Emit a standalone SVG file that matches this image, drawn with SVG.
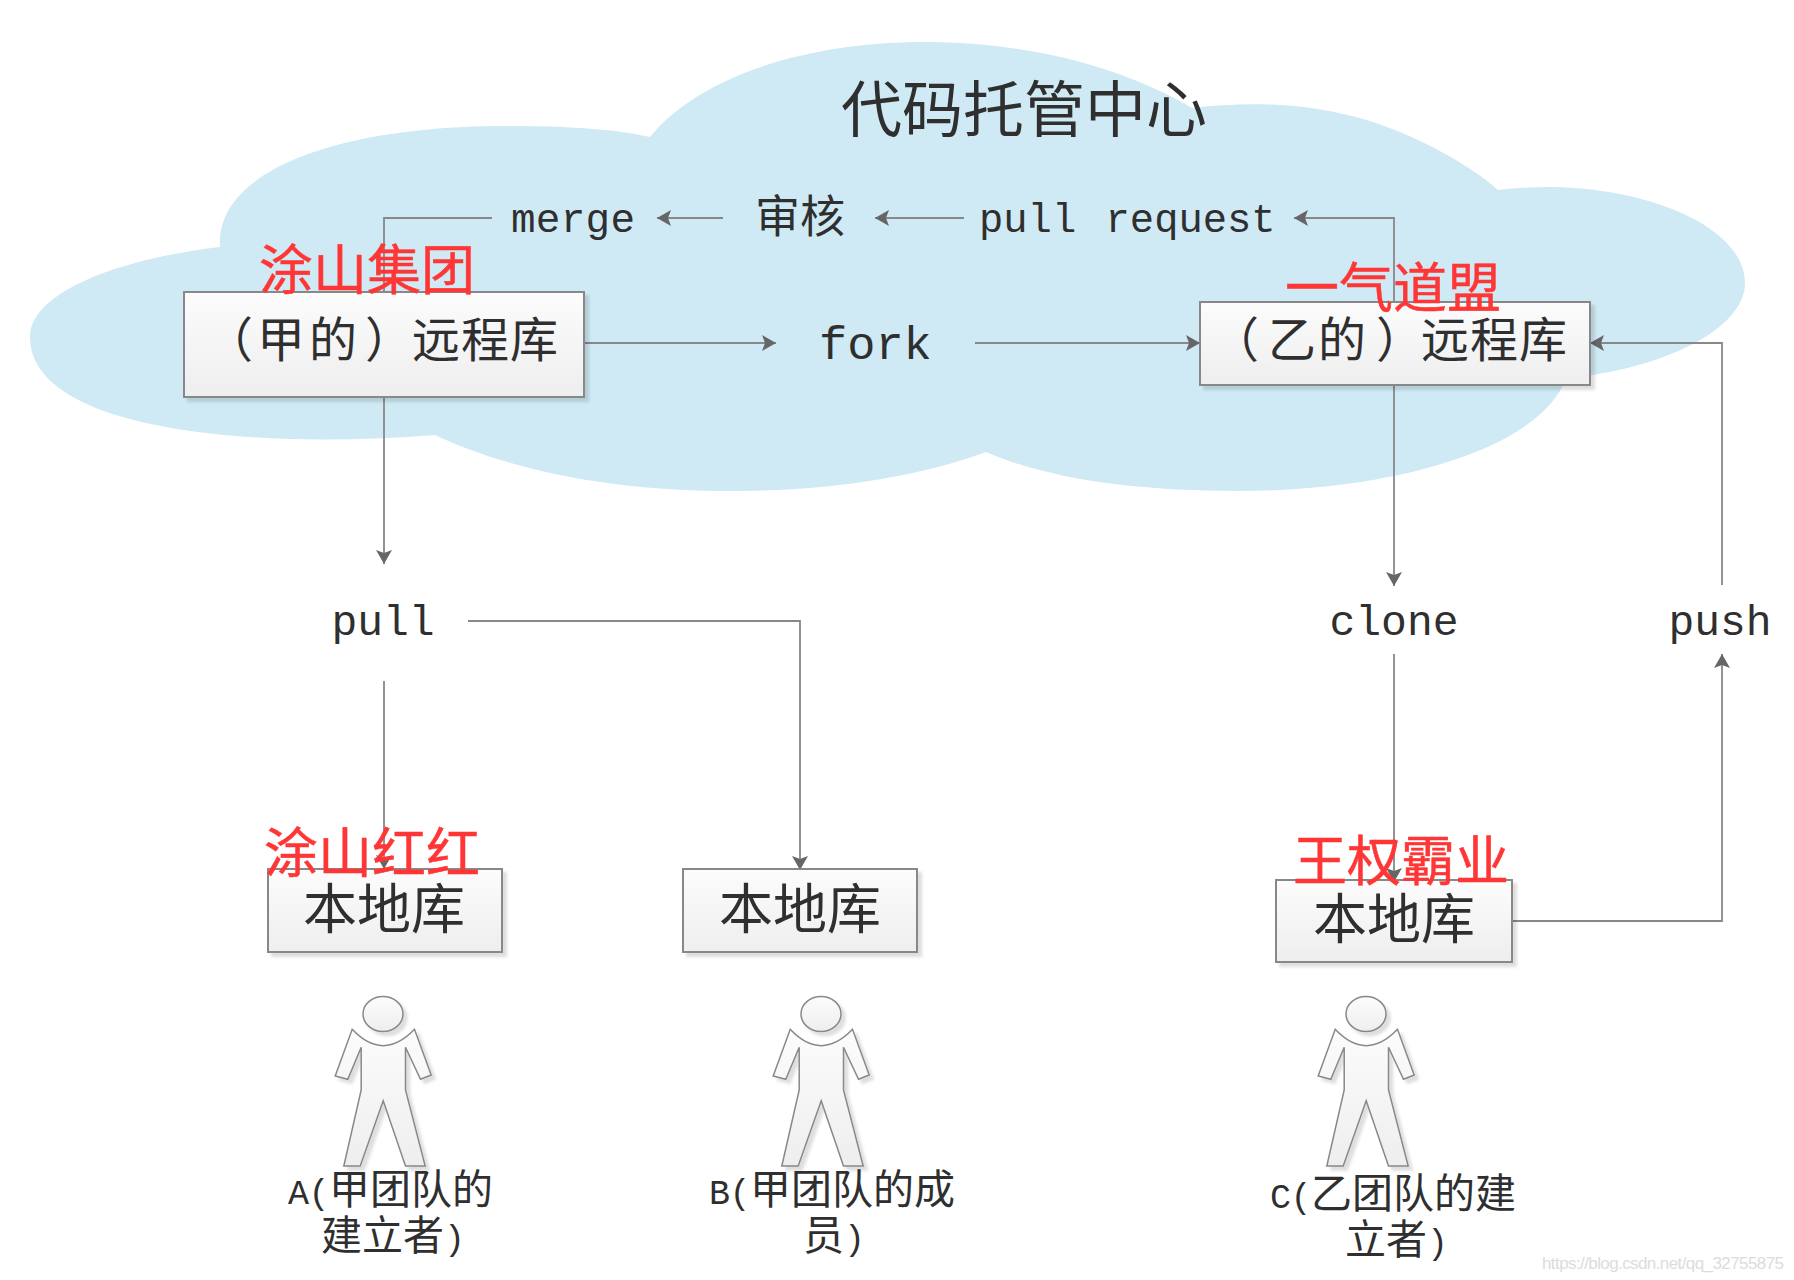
<svg xmlns="http://www.w3.org/2000/svg" width="1794" height="1280" viewBox="0 0 1794 1280">
<style>
text{fill:#2f2f2f;font-family:"Noto Sans CJK SC","Noto Sans",sans-serif}
.m{font-family:"Liberation Mono","DejaVu Sans Mono",monospace}
.t48{font-size:48px}.t54{font-size:54px;text-anchor:middle}.t41{font-size:41px}
.l{font-size:35px;letter-spacing:-0.5px}
.r{fill:#ff3636;font-size:54px;stroke:#ff3636;stroke-width:.5}
.box{fill:url(#g);stroke:#888;stroke-width:2}
.p{fill:url(#g);stroke:#888;stroke-width:1.5}
.c{fill:none;stroke:#888;stroke-width:1.8}
.a{marker-end:url(#arrow)}
</style>
<defs>
<linearGradient id="g" x1="0" y1="0" x2="0" y2="1"><stop offset="0" stop-color="#fcfcfc"/><stop offset="1" stop-color="#eeeeee"/></linearGradient>
<filter id="s" x="-10%" y="-10%" width="125%" height="125%"><feDropShadow dx="4" dy="4" stdDeviation="1.5" flood-color="#000" flood-opacity="0.13"/></filter>
<marker id="arrow" markerUnits="userSpaceOnUse" markerWidth="16" markerHeight="16" refX="14" refY="8" orient="auto"><path d="M0,0L14,8L0,16L3,8Z" fill="#666"/></marker>
<g id="person">
<ellipse cx="0" cy="0" rx="20" ry="17.5" class="p"/>
<path class="p" d="M-30.8,15.3Q0,48 31.5,15.3L48.2,61 37.5,65.3 22.5,33.3V76L42.2,152H22.5L0.2,86.7-22.8,152H-39.2L-21.8,76V33.3L-35.2,65.3-47.8,62Z"/>
</g>
</defs>
<rect width="1794" height="1280" fill="#fff"/>
<g id="cloud"><path fill="#cfeaf5" d="M650,137C700,75 810,42 923,42C1030,42 1125,68 1192,108C1262,100 1330,104 1395,130C1440,148 1478,172 1498,190C1620,175 1745,220 1745,283C1745,330 1660,370 1566,378C1540,450 1390,491 1238,491C1140,491 1050,480 986,452C910,480 820,491 729,491C610,491 510,470 435,435C250,450 30,430 30,337C30,295 110,260 220,247C215,170 340,126 505,126C560,126 610,128 650,137Z"/></g>
<g id="title"><text x="841" y="132" font-size="61">代码托管中心</text></g>
<g id="connectors">
<path class="c" d="M492,218H384V292"/>
<path class="c a" d="M723,218H657"/>
<path class="c a" d="M964,218H875"/>
<path class="c a" d="M1394,302V218H1294"/>
<path class="c a" d="M584,343H776"/>
<path class="c a" d="M975,343H1200"/>
<path class="c a" d="M1722,585V343H1590"/>
<path class="c a" d="M384,397V564"/>
<path class="c a" d="M1394,385V586"/>
<path class="c a" d="M468,621H800V870"/>
<path class="c a" d="M384,681V869"/>
<path class="c a" d="M1394,654V882"/>
<path class="c a" d="M1512,921H1722V654"/>
</g>
<g id="label-merge"><text class="m" x="511" y="232" font-size="41" textLength="124">merge</text></g>
<g id="label-review"><text x="755" y="233" font-size="45">审核</text></g>
<g id="label-pull-request"><text class="m" x="979" y="232" font-size="40.5" word-spacing="5">pull request</text></g>
<g id="label-fork"><text class="m" x="819" y="359" font-size="47">fork</text></g>
<g id="label-pull"><text class="m" x="383" y="635" font-size="43" text-anchor="middle">pull</text></g>
<g id="label-clone"><text class="m" x="1394" y="635" font-size="43" text-anchor="middle">clone</text></g>
<g id="label-push"><text class="m" x="1720" y="635" font-size="43" text-anchor="middle">push</text></g>
<g id="remote-a"><rect class="box" x="184" y="292" width="400" height="105" filter="url(#s)"/><text class="t48" x="205 257 309 365 412 461 510" y="357">（甲的）远程库</text></g>
<g id="remote-b"><rect class="box" x="1200" y="302" width="390" height="83" filter="url(#s)"/><text class="t48" x="1211 1268 1318 1376 1421 1470 1519" y="357">（乙的）远程库</text></g>
<g id="local-a"><rect class="box" x="268" y="869" width="234" height="83" filter="url(#s)"/><text class="t54" x="384" y="929">本地库</text></g>
<g id="local-b"><rect class="box" x="683" y="869" width="234" height="83" filter="url(#s)"/><text class="t54" x="800" y="929">本地库</text></g>
<g id="local-c"><rect class="box" x="1276" y="880" width="236" height="82" filter="url(#s)"/><text class="t54" x="1394" y="939">本地库</text></g>
<g id="person-a"><use href="#person" x="383" y="1014" filter="url(#s)"/><text class="t41" x="288" y="1204"><tspan class="m l">A(</tspan>甲团队的</text><text class="t41" x="321" y="1250">建立者<tspan class="m l">)</tspan></text></g>
<g id="person-b"><use href="#person" x="821" y="1014" filter="url(#s)"/><text class="t41" x="709" y="1204"><tspan class="m l">B(</tspan>甲团队的成</text><text class="t41" x="803" y="1250">员<tspan class="m l">)</tspan></text></g>
<g id="person-c"><use href="#person" x="1366" y="1014" filter="url(#s)"/><text class="t41" x="1270" y="1208"><tspan class="m l">C(</tspan>乙团队的建</text><text class="t41" x="1345" y="1254">立者<tspan class="m l">)</tspan></text></g>
<g id="annotations">
<text class="r" x="259" y="290">涂山集团</text>
<text class="r" x="1285" y="308">一气道盟</text>
<text class="r" x="264" y="873">涂山红红</text>
<text class="r" x="1293" y="881">王权霸业</text>
</g>
<g id="watermark"><text x="1542" y="1269" font-size="17" textLength="242" style="fill:#dcdcdc;font-family:'Liberation Sans',sans-serif">https://blog.csdn.net/qq_32755875</text></g>
</svg>
